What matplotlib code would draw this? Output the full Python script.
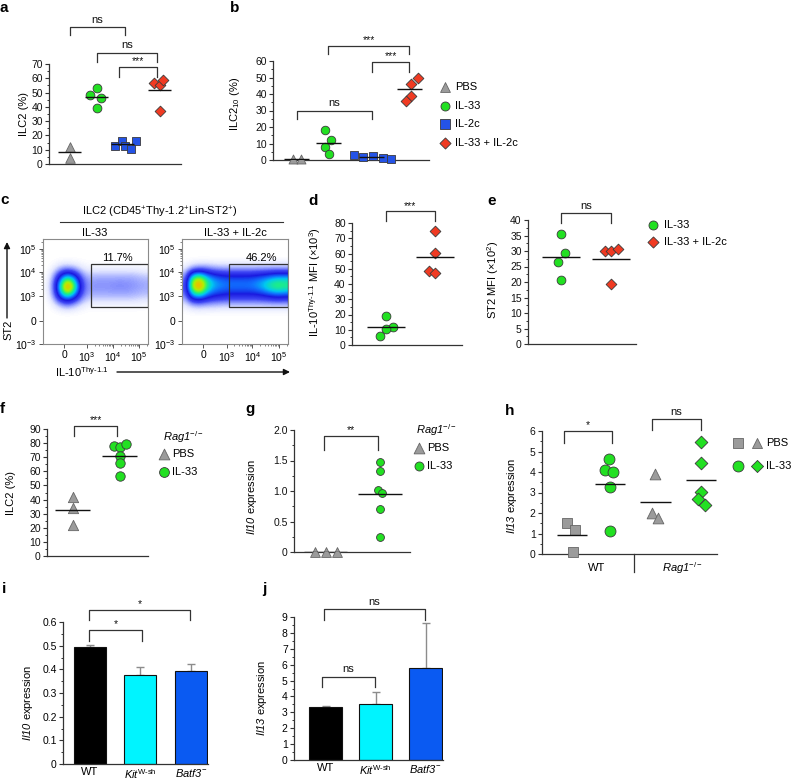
import numpy as np
import matplotlib
matplotlib.use('Agg')
import matplotlib.pyplot as plt
from matplotlib.ticker import MultipleLocator, FixedLocator
from matplotlib.colors import LinearSegmentedColormap
from matplotlib.patches import Rectangle

plt.rcParams['font.family'] = ['Liberation Sans', 'DejaVu Sans']
plt.rcParams['mathtext.fontset'] = 'custom'
plt.rcParams['mathtext.rm'] = 'Liberation Sans'
plt.rcParams['mathtext.it'] = 'Liberation Sans:italic'
plt.rcParams['mathtext.bf'] = 'Liberation Sans:bold'
# sf slot used for fully italic gene names (digits included)
plt.rcParams['mathtext.sf'] = 'Liberation Sans:italic'

# ---------------- data ----------------
# panel a: ILC2 (%)
a_pbs = [11.7, 4.5]
a_il33 = [53.0, 48.6, 46.0, 39.0]
a_il2c = [12.4, 16.4, 12.4, 10.7, 16.4]
a_combo = [56.7, 55.0, 59.0, 37.0]
a_off_pbs = [0, 0]
a_off_il33 = [0, -0.24, 0.14, 0]
a_off_il2c = [-0.25, -0.02, 0.1, 0.3, 0.48]
a_off_combo = [-0.2, 0, 0.12, 0]

# panel b: ILC2_10 (%)
b_pbs = [0.4, 0.4]
b_il33 = [18.0, 12.0, 8.0, 3.6]
b_il2c = [2.8, 2.0, 2.4, 1.2, 0.4]
b_combo = [50.0, 46.0, 39.0, 36.0]
b_off_pbs = [-0.13, 0.13]
b_off_il33 = [-0.1, 0.09, -0.1, 0.04]
b_off_il2c = [-0.57, -0.27, 0.05, 0.35, 0.61]
b_off_combo = [0.27, 0.07, 0.07, -0.09]

# panel c: flow density grids (rows top->bottom, 0-10)
c_left_pct = '11.7%'
c_right_pct = '46.2%'
c_left = [
    [0]*15, [0]*15, [0]*15,
    [0, 0.2, 0.8, 1.0, 0.8, 0.4, 0.2, 0.2, 0.2, 0.2, 0.2, 0.2, 0.2, 0.2, 0.1],
    [0, 1.0, 3.5, 5.5, 4.0, 1.6, 0.9, 1.0, 1.0, 1.0, 1.0, 1.0, 1.0, 0.9, 0.8],
    [0.1, 1.3, 5.5, 10, 6.5, 2.2, 1.1, 1.2, 1.2, 1.2, 1.3, 1.3, 1.2, 1.1, 1.0],
    [0, 1.0, 3.8, 5.5, 3.8, 1.6, 0.9, 0.9, 0.9, 0.9, 0.9, 0.9, 0.9, 0.8, 0.7],
    [0, 0.2, 0.8, 1.2, 0.8, 0.4, 0.15, 0.15, 0.15, 0.15, 0.15, 0.15, 0.15, 0.15, 0.1],
    [0]*15, [0]*15, [0]*15, [0]*15,
]
c_right = [
    [0]*15, [0]*15, [0]*15,
    [0.3, 0.9, 1.2, 1.2, 1.0, 0.9, 0.9, 0.9, 0.9, 0.9, 0.9, 0.9, 0.9, 0.9, 0.9],
    [1.2, 6, 7, 5.0, 4.0, 3.6, 3.4, 3.4, 3.4, 3.4, 3.6, 3.9, 4.3, 4.7, 4.7],
    [1.6, 7.5, 9.5, 6.0, 4.6, 4.2, 4.0, 4.0, 4.0, 4.0, 4.3, 4.9, 5.8, 6.3, 6.0],
    [1.2, 4.2, 4.8, 3.6, 3.0, 2.8, 2.6, 2.6, 2.6, 2.6, 2.6, 2.8, 3.1, 3.4, 3.2],
    [0.3, 0.8, 0.9, 0.8, 0.8, 0.7, 0.7, 0.7, 0.7, 0.7, 0.7, 0.7, 0.7, 0.7, 0.7],
    [0]*15, [0]*15, [0]*15, [0]*15,
]
c_yticklabels = ['10$^{-3}$', '0', '10$^{3}$', '10$^{4}$', '10$^{5}$']
c_xticklabels = ['0', '10$^{3}$', '10$^{4}$', '10$^{5}$']

# panel d: IL-10 MFI (x10^3)
d_il33 = [19.2, 11.8, 10.5, 5.7]
d_combo = [74.5, 60.3, 48.7, 47.2]
d_off_il33 = [0, 0.14, 0, -0.11]
d_off_combo = [0, 0, -0.12, 0]

# panel e: ST2 MFI (x10^2)
e_il33 = [35.6, 29.5, 26.5, 20.6]
e_combo = [29.9, 29.9, 30.8, 19.3]
e_off_il33 = [0, 0.07, -0.07, 0]
e_off_combo = [-0.13, 0, 0.13, 0]

# panel f: ILC2 (%) Rag1-/-
f_pbs = [41.9, 34.1, 21.8]
f_il33 = [77.7, 76.9, 79.2, 70.9, 66.2, 56.4]
f_off_pbs = [0, 0, 0]
f_off_il33 = [-0.13, 0, 0.14, 0, 0, 0]

# panel g: Il10 expression Rag1-/-
g_pbs = [0.0, 0.0, 0.0]
g_il33 = [1.48, 1.32, 1.01, 0.97, 0.71, 0.24]
g_off_pbs = [-0.2, 0, 0.2]
g_off_il33 = [0, 0, -0.04, 0.05, 0, 0]

# panel h: Il13 expression
h_wt_pbs = [1.5, 1.17, 0.11]
h_wt_il33 = [4.63, 4.1, 3.98, 3.25, 1.1]
h_rag_pbs = [3.9, 1.98, 1.77]
h_rag_il33 = [5.48, 4.46, 3.04, 2.67, 2.37]
h_off_wt_pbs = [-0.12, 0.08, 0.02]
h_off_wt_il33 = [-0.03, -0.12, 0.09, 0, 0]
h_off_rag_pbs = [-0.02, -0.08, 0.07]
h_off_rag_il33 = [0.01, 0.01, 0.01, -0.09, 0.1]
RAG = '$\\mathsf{Rag1}^{-/-}$'
h_groups = ['WT', RAG]

# panel i / j bars
bar_labels = ['WT', '$\\mathsf{Kit}^{\\mathrm{W\u2010sh}}$', '$\\mathsf{Batf3}^{-}$']
i_vals = [0.494, 0.374, 0.395]
i_errs = [0.009, 0.036, 0.027]
j_vals = [3.32, 3.55, 5.78]
j_errs = [0.10, 0.72, 2.83]

# ---------------- style ----------------
GRAY = '#9b9b9b'
GREEN = '#22e022'
BLUE = '#2453e6'
RED = '#f03a22'
CYAN = '#00f4ff'
BATF = '#0a5af2'
AX = '#333333'
EDGE = '#3a3a3a'
FS_TICK = 7.5
FS_LAB = 8
FS_TXT = 8

W, H = 793, 781
fig = plt.figure(figsize=(W / 100, H / 100), dpi=100)


def pax(l, t, r, b):
    ax = fig.add_axes([l / W, 1 - b / H, (r - l) / W, (b - t) / H])
    ax.patch.set_visible(False)
    return ax


def dot_axes(ax, ymax, major, minor, xlim):
    ax.set_xlim(*xlim)
    ax.set_ylim(0, ymax)
    ax.yaxis.set_major_locator(MultipleLocator(major))
    ax.yaxis.set_minor_locator(MultipleLocator(minor))
    for s in ('top', 'right'):
        ax.spines[s].set_visible(False)
    for s in ('left', 'bottom'):
        ax.spines[s].set_color(AX)
        ax.spines[s].set_linewidth(0.9)
    ax.set_xticks([])
    ax.tick_params(axis='y', which='major', length=3, width=0.8, color=AX,
                   labelsize=FS_TICK, pad=1.5, labelcolor='#111')
    ax.tick_params(axis='y', which='minor', length=1.8, width=0.7, color=AX)


def group(ax, pos, offs, vals, marker, color, s, hw=0.4, ec=EDGE):
    x = pos + np.asarray(offs, float)
    ax.scatter(x, vals, s=s, marker=marker, facecolor=color, edgecolor=ec,
               linewidths=0.6, zorder=3, clip_on=False)
    ax.hlines(np.mean(vals), pos - hw, pos + hw, color='#111', lw=1.0, zorder=4)


def bracket(ax, x1, x2, yb, yt, label, fs=FS_TXT, off=1.5):
    ax.plot([x1, x1, x2, x2], [yb, yt, yt, yb], color=AX, lw=0.9,
            clip_on=False, zorder=5)
    ax.annotate(label, ((x1 + x2) / 2, yt), xytext=(0, off),
                textcoords='offset points', ha='center', va='bottom',
                fontsize=fs, annotation_clip=False, color='#111')


STAR = 7.5

# ---------------- panel a ----------------
ax = pax(49, 64, 181, 164)
dot_axes(ax, 70, 10, 5, (-0.72, 3.83))
a_pos = [0, 0.93, 1.8, 3.1]
group(ax, a_pos[0], a_off_pbs, a_pbs, '^', GRAY, 48, ec='#666')
group(ax, a_pos[1], a_off_il33, a_il33, 'o', GREEN, 40)
group(ax, a_pos[2], a_off_il2c, a_il2c, 's', BLUE, 40)
group(ax, a_pos[3], a_off_combo, a_combo, 'D', RED, 30)
bracket(ax, 0, 1.9, 90, 96, 'ns')
bracket(ax, 0.93, 3.01, 71.4, 78, 'ns')
bracket(ax, 1.7, 3.01, 61, 68, '***', fs=STAR, off=0.5)

# ---------------- panel b ----------------
ax = pax(273, 61, 429, 160)
dot_axes(ax, 60, 10, 5, (-0.76, 4.23))
b_pos = [0, 1, 2.4, 3.6]
group(ax, b_pos[0], b_off_pbs, b_pbs, '^', GRAY, 42, ec='#666')
group(ax, b_pos[1], b_off_il33, b_il33, 'o', GREEN, 38)
group(ax, b_pos[2], b_off_il2c, b_il2c, 's', BLUE, 38)
group(ax, b_pos[3], b_off_combo, b_combo, 'D', RED, 30)
bracket(ax, 1, 3.6, 64, 69.2, '***', fs=STAR, off=0.5)
bracket(ax, 2.4, 3.6, 53.6, 59.4, '***', fs=STAR, off=0.5)
bracket(ax, 0, 2.4, 24.6, 30, 'ns')

# ---------------- panel c ----------------
fcmap = LinearSegmentedColormap.from_list('flow', [
    (0.0, '#ffffff'), (0.04, '#e2e6ff'), (0.1, '#97a2ff'), (0.18, '#4048f5'),
    (0.28, '#1a1ae0'), (0.38, '#1070ff'), (0.46, '#00c8f0'), (0.56, '#20f080'),
    (0.68, '#b0f000'), (0.8, '#ffb000'), (0.9, '#ff3000'), (1.0, '#d00000')])

ytk = [0.0, 0.22, 0.457, 0.686, 0.905]
xtk = [0.2, 0.42, 0.665, 0.915]


def minor_positions(majors, top):
    out = []
    for lo, hi in zip(majors[:-1], majors[1:]):
        for k in range(2, 10):
            out.append(lo + np.log10(k) * (hi - lo))
    step = majors[-1] - majors[-2]
    for k in range(2, 10):
        p = majors[-1] + np.log10(k) * step
        if p <= top:
            out.append(p)
    return out


def flow_ax(l, r, grid, gx0):
    ax = pax(l, 239, r, 344)
    ax.imshow(np.array(grid, float), extent=(0, 1, 0, 1), cmap=fcmap, vmin=0,
              vmax=10, interpolation='bicubic', aspect='auto', origin='upper')
    ax.set_xlim(0, 1)
    ax.set_ylim(0, 1)
    ax.add_patch(Rectangle((gx0, 0.355), 1 - gx0, 0.405, fill=False,
                           ec='#333', lw=0.9, zorder=5))
    for s in ax.spines.values():
        s.set_color('#8a8a8a')
        s.set_linewidth(0.8)
    ax.set_yticks(ytk, c_yticklabels)
    ax.set_xticks(xtk, c_xticklabels)
    ax.yaxis.set_minor_locator(FixedLocator(minor_positions(ytk[2:], 1.0)))
    ax.xaxis.set_minor_locator(FixedLocator(minor_positions(xtk[1:], 1.0)))
    ax.tick_params(which='major', length=3, width=0.7, color='#555',
                   labelsize=FS_TICK, pad=1.5)
    ax.tick_params(which='minor', length=1.6, width=0.5, color='#555')
    return ax


flow_ax(43, 148, c_left, 0.454)
flow_ax(182, 288, c_right, 0.443)

# ---------------- panel d ----------------
ax = pax(352, 223, 462, 345)
dot_axes(ax, 80, 10, 5, (-0.69, 1.55))
group(ax, 0, d_off_il33, d_il33, 'o', GREEN, 40, hw=0.39)
group(ax, 1, d_off_combo, d_combo, 'D', RED, 30, hw=0.39)
bracket(ax, 0, 1, 81, 87.6, '***', fs=STAR, off=0.5)

# ---------------- panel e ----------------
ax = pax(528, 220, 636, 344)
dot_axes(ax, 40, 5, 2.5, (-0.66, 1.5))
group(ax, 0, e_off_il33, e_il33, 'o', GREEN, 40, hw=0.38)
group(ax, 1, e_off_combo, e_combo, 'D', RED, 30, hw=0.38)
bracket(ax, 0, 1, 39.1, 42.3, 'ns')

# ---------------- panel f ----------------
ax = pax(47, 429, 148, 556)
dot_axes(ax, 90, 10, 5, (-0.55, 1.6))
group(ax, 0, f_off_pbs, f_pbs, '^', GRAY, 55, hw=0.37, ec='#666')
group(ax, 1, f_off_il33, f_il33, 'o', GREEN, 46, hw=0.37)
bracket(ax, 0.03, 0.95, 85, 92.3, '***', fs=STAR, off=0.5)

# ---------------- panel g ----------------
ax = pax(294, 430, 410, 552)
dot_axes(ax, 2.0, 0.5, 0.25, (-0.59, 1.56))
ax.set_yticks([0, 0.5, 1.0, 1.5, 2.0], ['0', '0.5', '1.0', '1.5', '2.0'])
group(ax, 0, g_off_pbs, g_pbs, '^', GRAY, 50, hw=0.4, ec='#666')
group(ax, 1, g_off_il33, g_il33, 'o', GREEN, 32, hw=0.41)
bracket(ax, -0.04, 0.97, 1.67, 1.9, '**', fs=STAR, off=0.5)

# ---------------- panel h ----------------
ax = pax(542, 431, 717, 554)
dot_axes(ax, 6, 1, 0.5, (-0.79, 3.82))
h_pos = [0, 1, 2.2, 3.4]
group(ax, h_pos[0], h_off_wt_pbs, h_wt_pbs, 's', GRAY, 52, ec='#666')
group(ax, h_pos[1], h_off_wt_il33, h_wt_il33, 'o', GREEN, 62)
group(ax, h_pos[2], h_off_rag_pbs, h_rag_pbs, '^', GRAY, 60, ec='#666')
group(ax, h_pos[3], h_off_rag_il33, h_rag_il33, 'D', GREEN, 42)
bracket(ax, -0.21, 1.06, 5.43, 6.02, '*', fs=STAR, off=0.5)
bracket(ax, 2.11, 3.39, 6.05, 6.57, 'ns')


# ---------------- panels i, j ----------------
def bar_panel(l, t, r, b, vals, errs, ymax, major, minor, xlim, width):
    ax = pax(l, t, r, b)
    pos = np.arange(len(vals))
    ax.errorbar(pos, vals, yerr=[np.zeros(len(errs)), errs], fmt='none',
                ecolor='#8c8c8c', elinewidth=1.0, capsize=2.8, capthick=1.0,
                zorder=1)
    ax.bar(pos, vals, width=width, color=['#000000', CYAN, BATF],
           edgecolor='#111', linewidth=0.8, zorder=2)
    ax.set_xlim(*xlim)
    ax.set_ylim(0, ymax)
    ax.yaxis.set_major_locator(MultipleLocator(major))
    ax.yaxis.set_minor_locator(MultipleLocator(minor))
    for s in ('top', 'right'):
        ax.spines[s].set_visible(False)
    for s in ('left', 'bottom'):
        ax.spines[s].set_color(AX)
        ax.spines[s].set_linewidth(0.9)
    ax.set_xticks(pos, bar_labels)
    ax.tick_params(axis='x', length=0, labelsize=FS_TXT, pad=2.5)
    ax.tick_params(axis='y', which='major', length=3, width=0.8, color=AX,
                   labelsize=FS_TICK, pad=1.5)
    ax.tick_params(axis='y', which='minor', length=1.8, width=0.7, color=AX)
    return ax


ax = bar_panel(63, 622, 208, 764, i_vals, i_errs, 0.6, 0.1, 0.05,
               (-0.53, 2.34), 0.63)
ax.set_yticks([0, 0.1, 0.2, 0.3, 0.4, 0.5, 0.6],
              ['0', '0.1', '0.2', '0.3', '0.4', '0.5', '0.6'])
bracket(ax, -0.01, 1.98, 0.607, 0.652, '*', fs=STAR, off=0.5)
bracket(ax, -0.01, 1.04, 0.518, 0.568, '*', fs=STAR, off=0.5)

ax = bar_panel(294, 617, 443, 760, j_vals, j_errs, 9, 1, 0.5,
               (-0.63, 2.35), 0.66)
bracket(ax, -0.03, 1.99, 8.78, 9.5, 'ns')
bracket(ax, -0.07, 0.99, 4.58, 5.25, 'ns')

# ---------------- overlay: labels, legends, arrows ----------------
ov = fig.add_axes([0, 0, 1, 1])
ov.set_xlim(0, W)
ov.set_ylim(H, 0)
ov.axis('off')

for lab, x, y in [('a', 0, 12), ('b', 230, 12), ('c', 0, 204), ('d', 308, 205),
                  ('e', 487, 205), ('f', 0, 413), ('g', 245, 413),
                  ('h', 505, 415), ('i', 2, 593), ('j', 262, 593)]:
    ov.text(x, y, lab, fontsize=11, fontweight='bold', va='baseline',
            ha='left')

ylabels = [
    (24, 114, 'ILC2 (%)'),
    (235, 104, 'ILC2$_{10}$ (%)'),
    (315, 282, 'IL-10$^{\\mathrm{Thy\u20101.1}}$ MFI (\u00d710$^{3}$)'),
    (493, 280, 'ST2 MFI (\u00d710$^{2}$)'),
    (11, 493, 'ILC2 (%)'),
    (252, 497, '$\\mathsf{Il10}$ expression'),
    (512, 496, '$\\mathsf{Il13}$ expression'),
    (28, 703, '$\\mathsf{Il10}$ expression'),
    (262, 698, '$\\mathsf{Il13}$ expression'),
]
for x, y, t in ylabels:
    ov.text(x, y, t, rotation=90, ha='center', va='center', fontsize=FS_LAB)


def leg_marker(x, y, marker, color, s, ec=EDGE):
    ov.scatter([x], [y], s=s, marker=marker, facecolor=color, edgecolor=ec,
               linewidths=0.6, zorder=5)


# legend b
for y, m, c, s, t in [(87, '^', GRAY, 50, 'PBS'), (106, 'o', GREEN, 42, 'IL-33'),
                      (124, 's', BLUE, 42, 'IL-2c'),
                      (143, 'D', RED, 32, 'IL-33 + IL-2c')]:
    leg_marker(445, y, m, c, s, ec='#666' if c == GRAY else EDGE)
    ov.text(455, y, t, fontsize=FS_TXT, va='center', ha='left')

# legend e
leg_marker(653, 225, 'o', GREEN, 42)
ov.text(664, 225, 'IL-33', fontsize=FS_TXT, va='center')
leg_marker(653, 242, 'D', RED, 32)
ov.text(664, 242, 'IL-33 + IL-2c', fontsize=FS_TXT, va='center')

# legend f
ov.text(163, 437, RAG, fontsize=FS_TXT, va='center')
leg_marker(164, 454, '^', GRAY, 60, ec='#666')
ov.text(172, 454, 'PBS', fontsize=FS_TXT, va='center')
leg_marker(164, 472, 'o', GREEN, 50)
ov.text(172, 472, 'IL-33', fontsize=FS_TXT, va='center')

# legend g
ov.text(416, 430, RAG, fontsize=FS_TXT, va='center')
leg_marker(419, 448, '^', GRAY, 60, ec='#666')
ov.text(427, 448, 'PBS', fontsize=FS_TXT, va='center')
leg_marker(419, 466, 'o', GREEN, 42)
ov.text(427, 466, 'IL-33', fontsize=FS_TXT, va='center')

# legend h
leg_marker(738, 443, 's', GRAY, 52, ec='#666')
leg_marker(757, 443, '^', GRAY, 52, ec='#666')
ov.text(766, 443, 'PBS', fontsize=FS_TXT, va='center')
leg_marker(738, 466, 'o', GREEN, 62)
leg_marker(757, 466, 'D', GREEN, 38)
ov.text(766, 466, 'IL-33', fontsize=FS_TXT, va='center')

# h group labels
ov.text(597, 568, h_groups[0], fontsize=FS_TXT, ha='center', va='center')
ov.text(682, 568, h_groups[1], fontsize=FS_TXT, ha='center', va='center')
ov.plot([634, 634], [554, 572], color=AX, lw=0.9)

# panel c annotations
ov.text(160, 212, 'ILC2 (CD45$^{+}$Thy-1.2$^{+}$Lin-ST2$^{+}$)', fontsize=FS_TXT,
        ha='center', va='center')
ov.plot([60, 283], [222, 222], color=AX, lw=0.8)
ov.text(95, 233, 'IL-33', fontsize=FS_TXT, ha='center', va='center')
ov.text(235, 233, 'IL-33 + IL-2c', fontsize=FS_TXT, ha='center', va='center')
ov.text(117, 258, c_left_pct, fontsize=FS_TXT, ha='center', va='center')
ov.text(262, 258, c_right_pct, fontsize=FS_TXT, ha='center', va='center')
ov.annotate('', xy=(7, 242), xytext=(7, 318),
            arrowprops=dict(arrowstyle='-|>', color='#111', lw=1.0,
                            mutation_scale=9, shrinkA=0, shrinkB=0))
ov.text(8, 330, 'ST2', rotation=90, fontsize=FS_TXT, ha='center', va='center')
ov.annotate('', xy=(290, 372), xytext=(117, 372),
            arrowprops=dict(arrowstyle='-|>', color='#111', lw=1.0,
                            mutation_scale=9, shrinkA=0, shrinkB=0))
ov.text(82, 372, 'IL-10$^{\\mathrm{Thy\u20101.1}}$', fontsize=FS_TXT,
        ha='center', va='center')

fig.savefig('out.png', dpi=100)
